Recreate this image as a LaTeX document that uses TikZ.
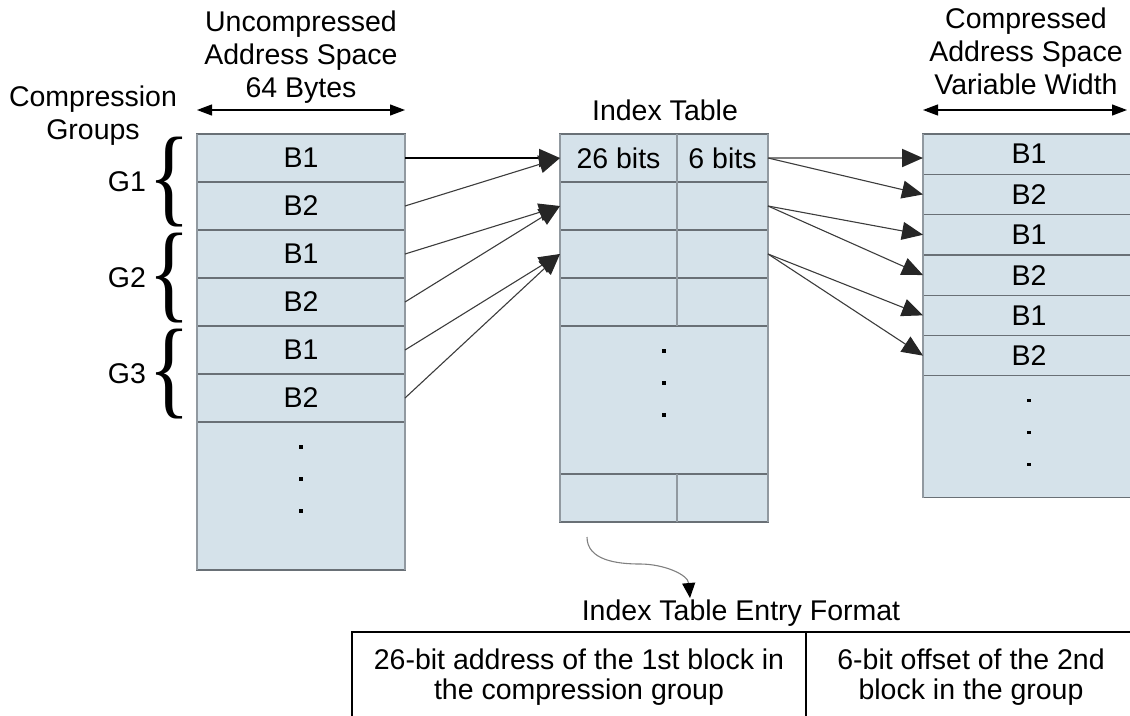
\documentclass[tikz,border=0pt]{standalone}
\usepackage{fontspec}
\setmainfont{Liberation Sans}
\newfontfamily\bracefont{Liberation Serif}
\usetikzlibrary{positioning,arrows.meta}

\definecolor{cellfill}{RGB}{213,226,234}
\definecolor{cellline}{RGB}{105,112,118}
\definecolor{cellside}{RGB}{145,153,160}
\definecolor{linkgray}{RGB}{60,60,60}

\begin{document}
\begin{tikzpicture}[
  x=1pt, y=-1pt,
  node distance=0pt,
  font=\fontsize{28.5}{33}\selectfont,
  cell/.style={draw=cellline, fill=cellfill, line width=1.3pt, outer sep=0pt, inner sep=0pt,
    minimum width=208pt, minimum height=48pt},
  side/.style={draw=cellside, line width=2.6pt},
  head/.style={inner sep=0pt, align=center},
  link/.style={draw=linkgray, line width=1.1pt, -{Triangle[length=21pt,width=18pt,color=black!85]}},
  boldlink/.style={link, line width=2pt},
  span/.style={line width=1.2pt, {Triangle[length=15pt,width=11pt]}-{Triangle[length=15pt,width=11pt]}},
  fmt/.style={inner sep=0pt, outer sep=0pt, align=center, minimum height=90pt, font=\fontsize{28.5}{30}\selectfont}
]
  \useasboundingbox (0,0) rectangle (1130,715);

  % uncompressed space
  \node[cell, anchor=north west] (u1) at (197,134) {B1};
  \node[cell, below=of u1] (u2) {B2};
  \node[cell, below=of u2] (u3) {B1};
  \node[cell, below=of u3] (u4) {B2};
  \node[cell, below=of u4] (u5) {B1};
  \node[cell, below=of u5] (u6) {B2};
  \node[cell, below=of u6, minimum height=148pt] (u7) {};
  \draw[side] (u1.north west) -- (u7.south west);
  \draw[side] (u1.north east) -- (u7.south east);

  % index table
  \node[cell, anchor=north west, minimum width=117pt] (ia1) at (560,134) {26 bits};
  \node[cell, right=of ia1, minimum width=91pt] (ib1) {6 bits};
  \node[cell, below=of ia1, minimum width=117pt] (ia2) {};
  \node[cell, right=of ia2, minimum width=91pt] (ib2) {};
  \node[cell, below=of ia2, minimum width=117pt] (ia3) {};
  \node[cell, right=of ia3, minimum width=91pt] (ib3) {};
  \node[cell, below=of ia3, minimum width=117pt] (ia4) {};
  \node[cell, right=of ia4, minimum width=91pt] (ib4) {};
  \node[cell, anchor=north west, minimum height=148pt] (idots) at (ia4.south west) {};
  \node[cell, anchor=north west, minimum width=117pt] (ia5) at (idots.south west) {};
  \node[cell, right=of ia5, minimum width=91pt] (ib5) {};
  \draw[side] (ia1.north west) -- (ia5.south west);
  \draw[side] (ib1.north west) -- (ib4.south west);
  \draw[side] (ib5.north west) -- (ib5.south west);
  \draw[side] (ib1.north east) -- (ib5.south east);

  % compressed space
  \node[cell, anchor=north west, minimum width=212pt, minimum height=40.3pt] (c1) at (923,134) {B1};
  \node[cell, below=of c1, minimum width=212pt, minimum height=40.3pt] (c2) {B2};
  \node[cell, below=of c2, minimum width=212pt, minimum height=40.3pt] (c3) {B1};
  \node[cell, below=of c3, minimum width=212pt, minimum height=40.3pt] (c4) {B2};
  \node[cell, below=of c4, minimum width=212pt, minimum height=40.3pt] (c5) {B1};
  \node[cell, below=of c5, minimum width=212pt, minimum height=40.3pt] (c6) {B2};
  \node[cell, below=of c6, minimum width=212pt, minimum height=122pt] (c7) {};
  \draw[side] (c1.north west) -- (c7.south west);

  % dots
  \foreach \n in {u7,idots,c7}
    \foreach \d in {25,57,89}
      \fill ([yshift=-\d pt]\n.north) +(-1.6pt,-1.6pt) rectangle +(1.6pt,1.6pt);

  % headings
  \node[head, anchor=north] (uhead) at (301,11) {Uncompressed\\Address Space\\64 Bytes};
  \node[head, anchor=north] (ghead) at (93,86) {Compression\\Groups};
  \node[head] (ihead) at (665,110) {Index Table};
  \node[head, anchor=north] (chead) at (1026,8) {Compressed\\Address Space\\Variable Width};
  \draw[span] ([yshift=24pt]u1.north west) -- ([yshift=24pt]u1.north east);
  \draw[span] ([yshift=24pt]c1.north west) -- ([yshift=24pt,xshift=-3pt]c1.north -| 1130,0);

  % groups
  \node[inner sep=0pt] (br1) at (170,182) {\resizebox*{42pt}{90pt}{\bracefont\{}};
  \node[inner sep=0pt] (br2) at (170,278) {\resizebox*{42pt}{90pt}{\bracefont\{}};
  \node[inner sep=0pt] (br3) at (170,374) {\resizebox*{42pt}{90pt}{\bracefont\{}};
  \node[head] (g1) at (127,182) {G1};
  \node[head] (g2) at (127,278) {G2};
  \node[head] (g3) at (127,374) {G3};

  % blocks to index entries
  \draw[boldlink, draw=black] (u1.east) -- (ia1.west);
  \foreach \s/\t in {u2/ia1,u3/ia2,u4/ia2,u5/ia3,u6/ia3}
    \draw[link] (\s.east) -- (\t.west);

  % index entries to compressed blocks
  \draw[boldlink, draw=gray] (ib1.east) -- (c1.west |- ib1.east);
  \foreach \s/\t in {ib1/c2,ib2/c3,ib2/c4,ib3/c5,ib3/c6}
    \draw[link] (\s.east) -- (\t.west);

  % entry format
  \coordinate (bend0) at (587,537);
  \coordinate (bendtip) at (690,598);
  \draw[draw=gray, line width=1.1pt, -{Triangle[length=15pt,width=13pt,color=black]}]
    (bend0) to[out=-90,in=180] (640,564) to[out=0,in=95] (bendtip);
  \node[head] (fmthead) at (741,613) {Index Table Entry Format};
  \node[fmt, anchor=north west, minimum width=454pt] (fmta) at (352,632)
    {26-bit address of the 1st block in\\the compression group};
  \node[fmt, anchor=north west, minimum width=330pt] (fmtb) at (fmta.north east)
    {6-bit offset of the 2nd\\block in the group};
  \draw[line width=1.4pt] (fmta.south west) -- (fmta.north west) -- (fmtb.north east);
  \draw[line width=1.4pt] (fmta.north east) -- (fmta.south east);
\end{tikzpicture}
\end{document}
